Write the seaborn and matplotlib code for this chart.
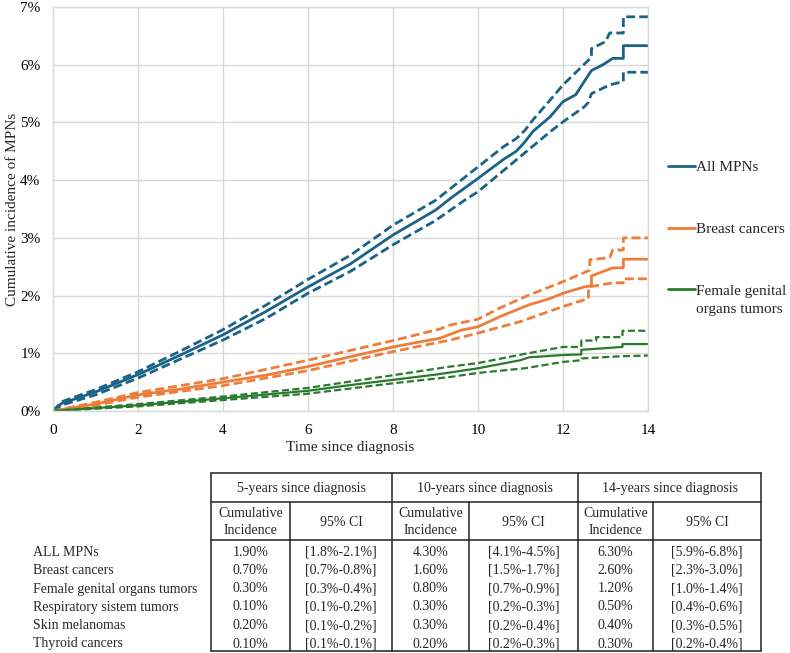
import numpy as np
import pandas as pd
import matplotlib
matplotlib.use("Agg")
import matplotlib.pyplot as plt
from matplotlib.ticker import PercentFormatter
from matplotlib.legend_handler import HandlerLine2D
import seaborn as sns

# ---------------- data ----------------
# All MPNs
mpn_t  = [0, 0.2, 1, 2, 3, 4, 5, 6, 7, 8, 9, 9.4, 10, 10.6, 10.9, 11.1, 11.3, 11.7, 12, 12.3, 12.5, 12.67, 12.94, 13.17, 13.42, 13.42, 14]
mpn_y  = [0, 0.13, 0.33, 0.63, 0.97, 1.32, 1.72, 2.15, 2.55, 3.05, 3.48, 3.71, 4.03, 4.36, 4.50, 4.66, 4.85, 5.10, 5.36, 5.48, 5.71, 5.90, 6.00, 6.11, 6.11, 6.33, 6.33]
mpnh_t = [0, 0.2, 1, 2, 3, 4, 5, 6, 7, 8, 9, 10, 10.6, 10.9, 11.1, 11.3, 11.7, 12, 12.6, 12.67, 12.67, 13.0, 13.1, 13.42, 13.42, 14]
mpnh_y = [0, 0.16, 0.37, 0.68, 1.04, 1.41, 1.83, 2.28, 2.70, 3.22, 3.65, 4.23, 4.58, 4.72, 4.86, 5.05, 5.39, 5.65, 6.08, 6.12, 6.28, 6.40, 6.55, 6.55, 6.83, 6.83]
mpnl_t = [0, 0.2, 1, 2, 3, 4, 5, 6, 7, 8, 9, 9.7, 10, 10.9, 11.7, 12, 12.5, 12.6, 12.67, 13.1, 13.42, 13.42, 14]
mpnl_y = [0, 0.10, 0.28, 0.57, 0.90, 1.23, 1.60, 2.04, 2.42, 2.88, 3.30, 3.66, 3.80, 4.35, 4.84, 5.01, 5.27, 5.35, 5.50, 5.65, 5.71, 5.87, 5.87]

# Breast cancers
br_t  = [0, 1, 2, 3, 4, 5, 6, 7, 8, 8.5, 9.1, 9.35, 9.6, 10, 10.5, 11.2, 11.7, 12, 12.5, 12.67, 12.67, 13.17, 13.42, 13.42, 14]
br_y  = [0, 0.12, 0.28, 0.38, 0.50, 0.62, 0.77, 0.94, 1.11, 1.18, 1.26, 1.33, 1.40, 1.46, 1.63, 1.84, 1.95, 2.04, 2.15, 2.17, 2.34, 2.48, 2.48, 2.63, 2.63]
brh_t = [0, 1, 2, 4, 6, 8, 9.1, 9.35, 10, 10.5, 11.2, 12, 12.63, 12.63, 13.1, 13.17, 13.42, 13.42, 14]
brh_y = [0, 0.15, 0.32, 0.56, 0.88, 1.22, 1.42, 1.49, 1.59, 1.78, 2.01, 2.24, 2.44, 2.62, 2.66, 2.79, 2.79, 3.00, 3.00]
brl_t = [0, 1, 2, 4, 6, 8, 9.35, 10, 11, 12, 12.6, 12.6, 13.17, 13.42, 13.42, 14]
brl_y = [0, 0.10, 0.24, 0.44, 0.70, 1.03, 1.23, 1.35, 1.55, 1.81, 1.95, 2.15, 2.22, 2.22, 2.29, 2.29]

# Female genital organs tumors
fg_t  = [0, 1, 2, 4, 6, 7, 8, 9, 10, 11, 11.2, 12, 12.43, 12.43, 13.4, 13.4, 14]
fg_y  = [0, 0.05, 0.10, 0.22, 0.35, 0.45, 0.54, 0.63, 0.74, 0.88, 0.93, 0.97, 0.98, 1.06, 1.11, 1.16, 1.16]
fgh_t = [0, 2, 4, 6, 8, 9.35, 10, 11.1, 12, 12.43, 12.43, 12.78, 12.78, 13.4, 13.4, 14]
fgh_y = [0, 0.12, 0.25, 0.40, 0.62, 0.77, 0.83, 0.99, 1.11, 1.11, 1.22, 1.22, 1.28, 1.28, 1.39, 1.39]
fgl_t = [0, 2, 4, 6, 8, 9.35, 10, 11.1, 12, 12.43, 12.43, 13.4, 14]
fgl_y = [0, 0.08, 0.19, 0.30, 0.48, 0.59, 0.66, 0.74, 0.85, 0.88, 0.91, 0.95, 0.96]

series_names = ["All MPNs", "Breast cancers", "Female genital\norgans tumors"]
series_colors = ["#1B6386", "#EE7D3B", "#2A7A2E"]

x_ticks = [0, 2, 4, 6, 8, 10, 12, 14]
y_ticks = [0, 1, 2, 3, 4, 5, 6, 7]

# Table
row_labels = ["ALL MPNs", "Breast cancers", "Female genital organs tumors",
              "Respiratory sistem tumors", "Skin melanomas", "Thyroid cancers"]
group_headers = ["5-years since diagnosis", "10-years since diagnosis", "14-years since diagnosis"]
ci5 = ["1.90%", "0.70%", "0.30%", "0.10%", "0.20%", "0.10%"]
ci5_rng = ["[1.8%-2.1%]", "[0.7%-0.8%]", "[0.3%-0.4%]", "[0.1%-0.2%]", "[0.1%-0.2%]", "[0.1%-0.1%]"]
ci10 = ["4.30%", "1.60%", "0.80%", "0.30%", "0.30%", "0.20%"]
ci10_rng = ["[4.1%-4.5%]", "[1.5%-1.7%]", "[0.7%-0.9%]", "[0.2%-0.3%]", "[0.2%-0.4%]", "[0.2%-0.3%]"]
ci14 = ["6.30%", "2.60%", "1.20%", "0.50%", "0.40%", "0.30%"]
ci14_rng = ["[5.9%-6.8%]", "[2.3%-3.0%]", "[1.0%-1.4%]", "[0.4%-0.6%]", "[0.3%-0.5%]", "[0.2%-0.4%]"]

# ---------------- style ----------------
sns.set_theme(style="whitegrid")
plt.rcParams["font.family"] = ["Liberation Serif", "DejaVu Serif"]

W, H = 790, 653
fig = plt.figure(figsize=(W / 100, H / 100), dpi=100)
ax = fig.add_axes([53 / W, 1 - 411 / H, (648 - 53) / W, (411 - 7) / H])

curves = [
    (mpn_t, mpn_y, mpnh_t, mpnh_y, mpnl_t, mpnl_y),
    (br_t, br_y, brh_t, brh_y, brl_t, brl_y),
    (fg_t, fg_y, fgh_t, fgh_y, fgl_t, fgl_y),
]
widths = [2.0, 2.0, 1.6]
solid_lines = []
for (t, y, th, yh, tl, yl), name, col, lw in zip(curves, series_names, series_colors, widths):
    for tt, yy in ((th, yh), (tl, yl)):
        sns.lineplot(x=tt, y=yy, ax=ax, color=col, lw=lw, sort=False, estimator=None,
                     linestyle=(0, (3.2, 1.5)), label="_nolegend_")
    sns.lineplot(x=t, y=y, ax=ax, color=col, lw=lw, sort=False, estimator=None, label=name)
    solid_lines.append(ax.lines[-1])

ax.set_xlim(0, 14)
ax.set_ylim(0, 7)
ax.set_xticks(x_ticks)
ax.set_yticks(y_ticks)
ax.yaxis.set_major_formatter(PercentFormatter(xmax=100, decimals=0))
ax.grid(True, color="#d9d9d9", lw=1.0)
for s in ax.spines.values():
    s.set_color("#d9d9d9")
    s.set_linewidth(1.0)
ax.tick_params(axis="both", length=0, labelsize=11, colors="black", pad=9)
ax.set_xlabel("Time since diagnosis", fontsize=11, va="top")
ax.xaxis.set_label_coords(0.5, -(441 - 411) / 404)
ax.set_ylabel("Cumulative incidence of MPNs", fontsize=11)
ax.yaxis.set_label_coords(-(53 - 19) / 595, 0.5)


class TopHandler(HandlerLine2D):
    def create_artists(self, legend, orig_handle, xdescent, ydescent, width, height, fontsize, trans):
        arts = super().create_artists(legend, orig_handle, xdescent, ydescent, width, height, fontsize, trans)
        for a in arts:
            a.set_ydata(np.asarray(a.get_ydata()) + 0.72 * fontsize)
        return arts


leg = ax.legend(handles=solid_lines, labels=series_names, loc="center left",
                bbox_to_anchor=(668 / W, 1 - 238 / H), bbox_transform=fig.transFigure,
                frameon=False, fontsize=11, handlelength=1.75, handletextpad=0.1,
                labelspacing=3.2, borderpad=0, borderaxespad=0,
                handler_map={solid_lines[2]: TopHandler()})
for txt in leg.get_texts():
    txt.set_linespacing(1.45)
for h in leg.legend_handles:
    h.set_linewidth(2.0)

# ---------------- table ----------------
tax = fig.add_axes([0, 0, 1, 1])
tax.set_xlim(0, W)
tax.set_ylim(H, 0)
tax.axis("off")

col_edges = [211, 290, 392, 469, 578, 653, 761]
y_top, y_hdr, y_sub, y_bot = 473, 502, 540, 651
row_y = [552, 570.5, 589, 607, 625.5, 644]
lc = "#222222"
lwt = 1.1
for yy in (y_top, y_hdr, y_sub, y_bot):
    tax.plot([col_edges[0], col_edges[-1]], [yy, yy], color=lc, lw=lwt)
for i, xx in enumerate(col_edges):
    y0 = y_top if i % 2 == 0 else y_hdr
    tax.plot([xx, xx], [y0, y_bot], color=lc, lw=lwt)

fs = 10
for g, hdr in enumerate(group_headers):
    xc = (col_edges[2 * g] + col_edges[2 * g + 2]) / 2
    tax.text(xc, (y_top + y_hdr) / 2 + 1, hdr, ha="center", va="center", fontsize=fs)
    xa = (col_edges[2 * g] + col_edges[2 * g + 1]) / 2
    xb = (col_edges[2 * g + 1] + col_edges[2 * g + 2]) / 2
    tax.text(xa, (y_hdr + y_sub) / 2 + 1, "Cumulative\nIncidence", ha="center", va="center",
             fontsize=fs, linespacing=1.4)
    tax.text(xb, (y_hdr + y_sub) / 2 + 1, "95% CI", ha="center", va="center", fontsize=fs)

cols = [ci5, ci5_rng, ci10, ci10_rng, ci14, ci14_rng]
for r, lab in enumerate(row_labels):
    tax.text(33, row_y[r], lab, ha="left", va="center", fontsize=fs)
    for c, vals in enumerate(cols):
        xc = (col_edges[c] + col_edges[c + 1]) / 2
        tax.text(xc, row_y[r], vals[r], ha="center", va="center", fontsize=fs)

fig.savefig("out.png", dpi=100)
